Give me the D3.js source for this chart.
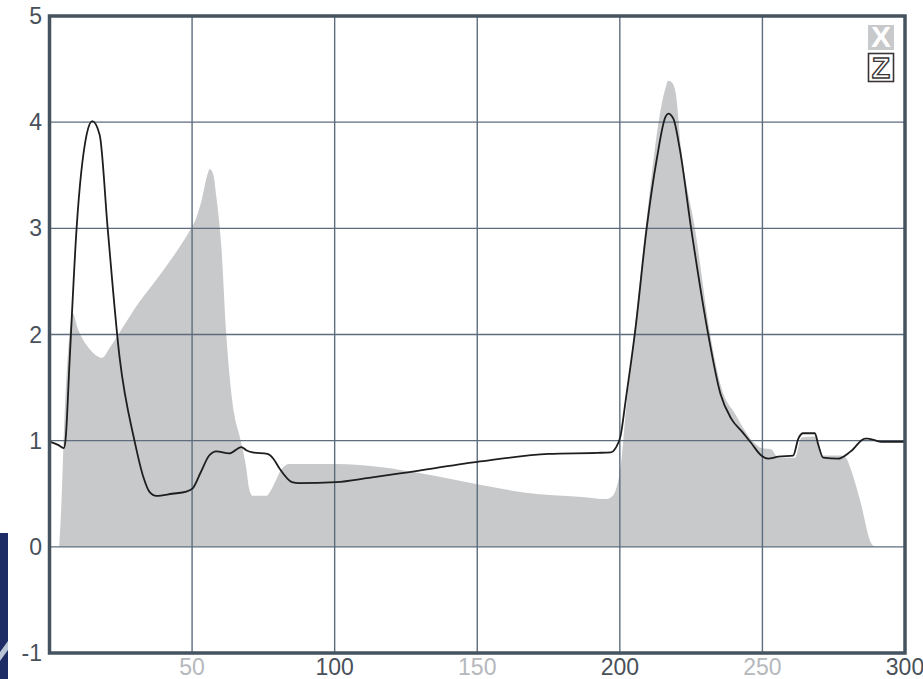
<!DOCTYPE html>
<html>
<head>
<meta charset="utf-8">
<script src="https://cdn.jsdelivr.net/npm/d3@7"></script>
<style>
body { margin: 0; background: #fff; }
text { font-family: "Liberation Sans", Arial, sans-serif; }
</style>
</head>
<body>
<script>
var width = 923
var height = 679

// black curve (x, y)
var lineX = [0, 3, 5, 5.6, 7.1, 9.5, 13, 15, 17.6, 20.4, 24.6, 29.8, 33, 35, 37.5, 43, 48, 50.2, 53, 56, 58.5, 63, 67.3, 69, 71.2, 76.4, 78.5, 80.6, 85, 87.6, 100.5, 112, 125, 150, 175, 192, 196.8, 198.5, 200.3, 202, 205.5, 209.4, 213, 216, 217, 218.8, 221, 225, 231, 235.3, 239, 243, 246, 249.6, 252, 255.6, 260.8, 262.6, 264.3, 268.4, 269.5, 271.3, 276.5, 281, 286, 287, 291.6, 300]
var lineY = [0.99, 0.96, 0.93, 1.0, 1.78, 3.0, 3.88, 4.01, 3.88, 3.0, 1.78, 1.0, 0.65, 0.52, 0.48, 0.5, 0.52, 0.55, 0.7, 0.86, 0.9, 0.88, 0.94, 0.91, 0.89, 0.875, 0.83, 0.74, 0.61, 0.6, 0.61, 0.65, 0.70, 0.80, 0.875, 0.885, 0.89, 0.93, 1.05, 1.37, 2.06, 3.0, 3.66, 4.05, 4.08, 4.03, 3.75, 3.0, 2.0, 1.44, 1.21, 1.08, 0.98, 0.86, 0.83, 0.85, 0.86, 1.02, 1.07, 1.07, 0.97, 0.84, 0.83, 0.9, 1.02, 1.02, 0.99, 0.99]

// grey filled area (x, y)
var areaX = [3.4, 4.0, 5.3, 7, 8.1, 10, 13, 16, 18.5, 21, 26, 31.6, 37, 43, 46, 49, 51.5, 53.5, 55.3, 56.2, 57.5, 58.5, 60.2, 62, 64.8, 66.5, 69, 70, 71.2, 76, 78, 81.6, 84, 85, 100.5, 116.6, 130.6, 150, 167, 186.5, 195.3, 197.5, 198.5, 200.3, 202, 205.5, 210, 214, 216, 217, 218, 219.5, 221.5, 226.5, 231.7, 235.6, 240.5, 247.5, 249.6, 253, 255.6, 261.5, 263.7, 268.4, 270.6, 277.6, 279.5, 281, 284.6, 288, 289.4]
var areaY = [0, 0.3, 1.25, 2.0, 2.2, 2.05, 1.9, 1.81, 1.78, 1.87, 2.08, 2.31, 2.5, 2.72, 2.84, 2.97, 3.1, 3.28, 3.5, 3.56, 3.5, 3.3, 2.85, 2.0, 1.25, 1.06, 0.74, 0.55, 0.48, 0.48, 0.55, 0.74, 0.78, 0.78, 0.78, 0.75, 0.69, 0.59, 0.51, 0.47, 0.45, 0.48, 0.53, 0.76, 1.25, 2.13, 3.23, 4.07, 4.32, 4.39, 4.38, 4.29, 3.75, 2.97, 2.0, 1.5, 1.25, 0.97, 0.93, 0.92, 0.84, 0.84, 1.03, 1.04, 0.86, 0.86, 0.83, 0.73, 0.40, 0.04, 0]

var xTicks = [50, 100, 150, 200, 250, 300]
var xTickLight = [true, false, true, false, true, false]
var yTicks = [-1, 0, 1, 2, 3, 4, 5]

var x = d3.scaleLinear().domain([0, 300]).range([49.5, 905])
var y = d3.scaleLinear().domain([-1, 5]).range([653, 16])

var svg = d3.select("body").append("svg")
.attr("width", width)
.attr("height", height)

// logo fragment bottom left
svg.append("rect").attr("x", 0).attr("y", 533).attr("width", 8).attr("height", 146).attr("fill", "#1d2c64")
svg.append("path").attr("d", "M0,652 L8,641 L8,650 L0,661 Z").attr("fill", "#b9c3d6")

var areaData = areaX.map(function(d, i) { return [d, areaY[i]] })
var lineData = lineX.map(function(d, i) { return [d, lineY[i]] })

svg.append("path")
.datum(areaData)
.attr("fill", "#c8c9cb")
.attr("d", d3.area().curve(d3.curveMonotoneX)
  .x(function(d) { return x(d[0]) })
  .y0(y(0))
  .y1(function(d) { return y(d[1]) }))

// grid
svg.append("g").selectAll("line")
.data(yTicks.filter(function(d) { return d > -1 && d < 5 }))
.enter().append("line")
.attr("x1", x(0)).attr("x2", x(300))
.attr("y1", function(d) { return y(d) }).attr("y2", function(d) { return y(d) })
.attr("stroke", "#5d6d7e").attr("stroke-width", 1.4)

svg.append("g").selectAll("line")
.data(xTicks.filter(function(d) { return d < 300 }))
.enter().append("line")
.attr("y1", y(5)).attr("y2", y(-1))
.attr("x1", function(d) { return x(d) }).attr("x2", function(d) { return x(d) })
.attr("stroke", "#5d6d7e").attr("stroke-width", 1.4)

svg.append("path")
.datum(lineData)
.attr("fill", "none")
.attr("stroke", "#1e1e1e")
.attr("stroke-width", 1.8)
.attr("d", d3.line().curve(d3.curveMonotoneX)
  .x(function(d) { return x(d[0]) })
  .y(function(d) { return y(d[1]) }))

// frame
svg.append("rect")
.attr("x", x(0)).attr("y", y(5))
.attr("width", x(300) - x(0)).attr("height", y(-1) - y(5))
.attr("fill", "none").attr("stroke", "#44535f").attr("stroke-width", 3.5)

// tick labels
svg.append("g").selectAll("text")
.data(yTicks)
.enter().append("text")
.attr("x", 42)
.attr("y", function(d) { return y(d) + 8 })
.attr("text-anchor", "end")
.style("font-size", "23px")
.attr("fill", "#48505a")
.text(function(d) { return d })

svg.append("g").selectAll("text")
.data(xTicks)
.enter().append("text")
.attr("x", function(d) { return x(d) })
.attr("y", 675)
.attr("text-anchor", "middle")
.style("font-size", "23px")
.attr("fill", function(d, i) { return xTickLight[i] ? "#b5b8bc" : "#48505a" })
.text(function(d) { return d })

// X / Z buttons
svg.append("rect").attr("x", 868).attr("y", 25).attr("width", 26).attr("height", 25).attr("fill", "#c8c9cb")
svg.append("text").attr("x", 881).attr("y", 47).attr("text-anchor", "middle")
.style("font-size", "30px").style("font-weight", "bold").attr("fill", "#fff").text("X")
svg.append("rect").attr("x", 868.5).attr("y", 53.5).attr("width", 25).attr("height", 28).attr("fill", "#fff")
.attr("stroke", "#3a3434").attr("stroke-width", 1.6)
svg.append("text").attr("x", 881).attr("y", 78).attr("text-anchor", "middle")
.style("font-size", "30px").style("font-weight", "bold").attr("fill", "#fff")
.attr("stroke", "#3a3434").attr("stroke-width", 1.4).text("Z")
</script>
</body>
</html>
